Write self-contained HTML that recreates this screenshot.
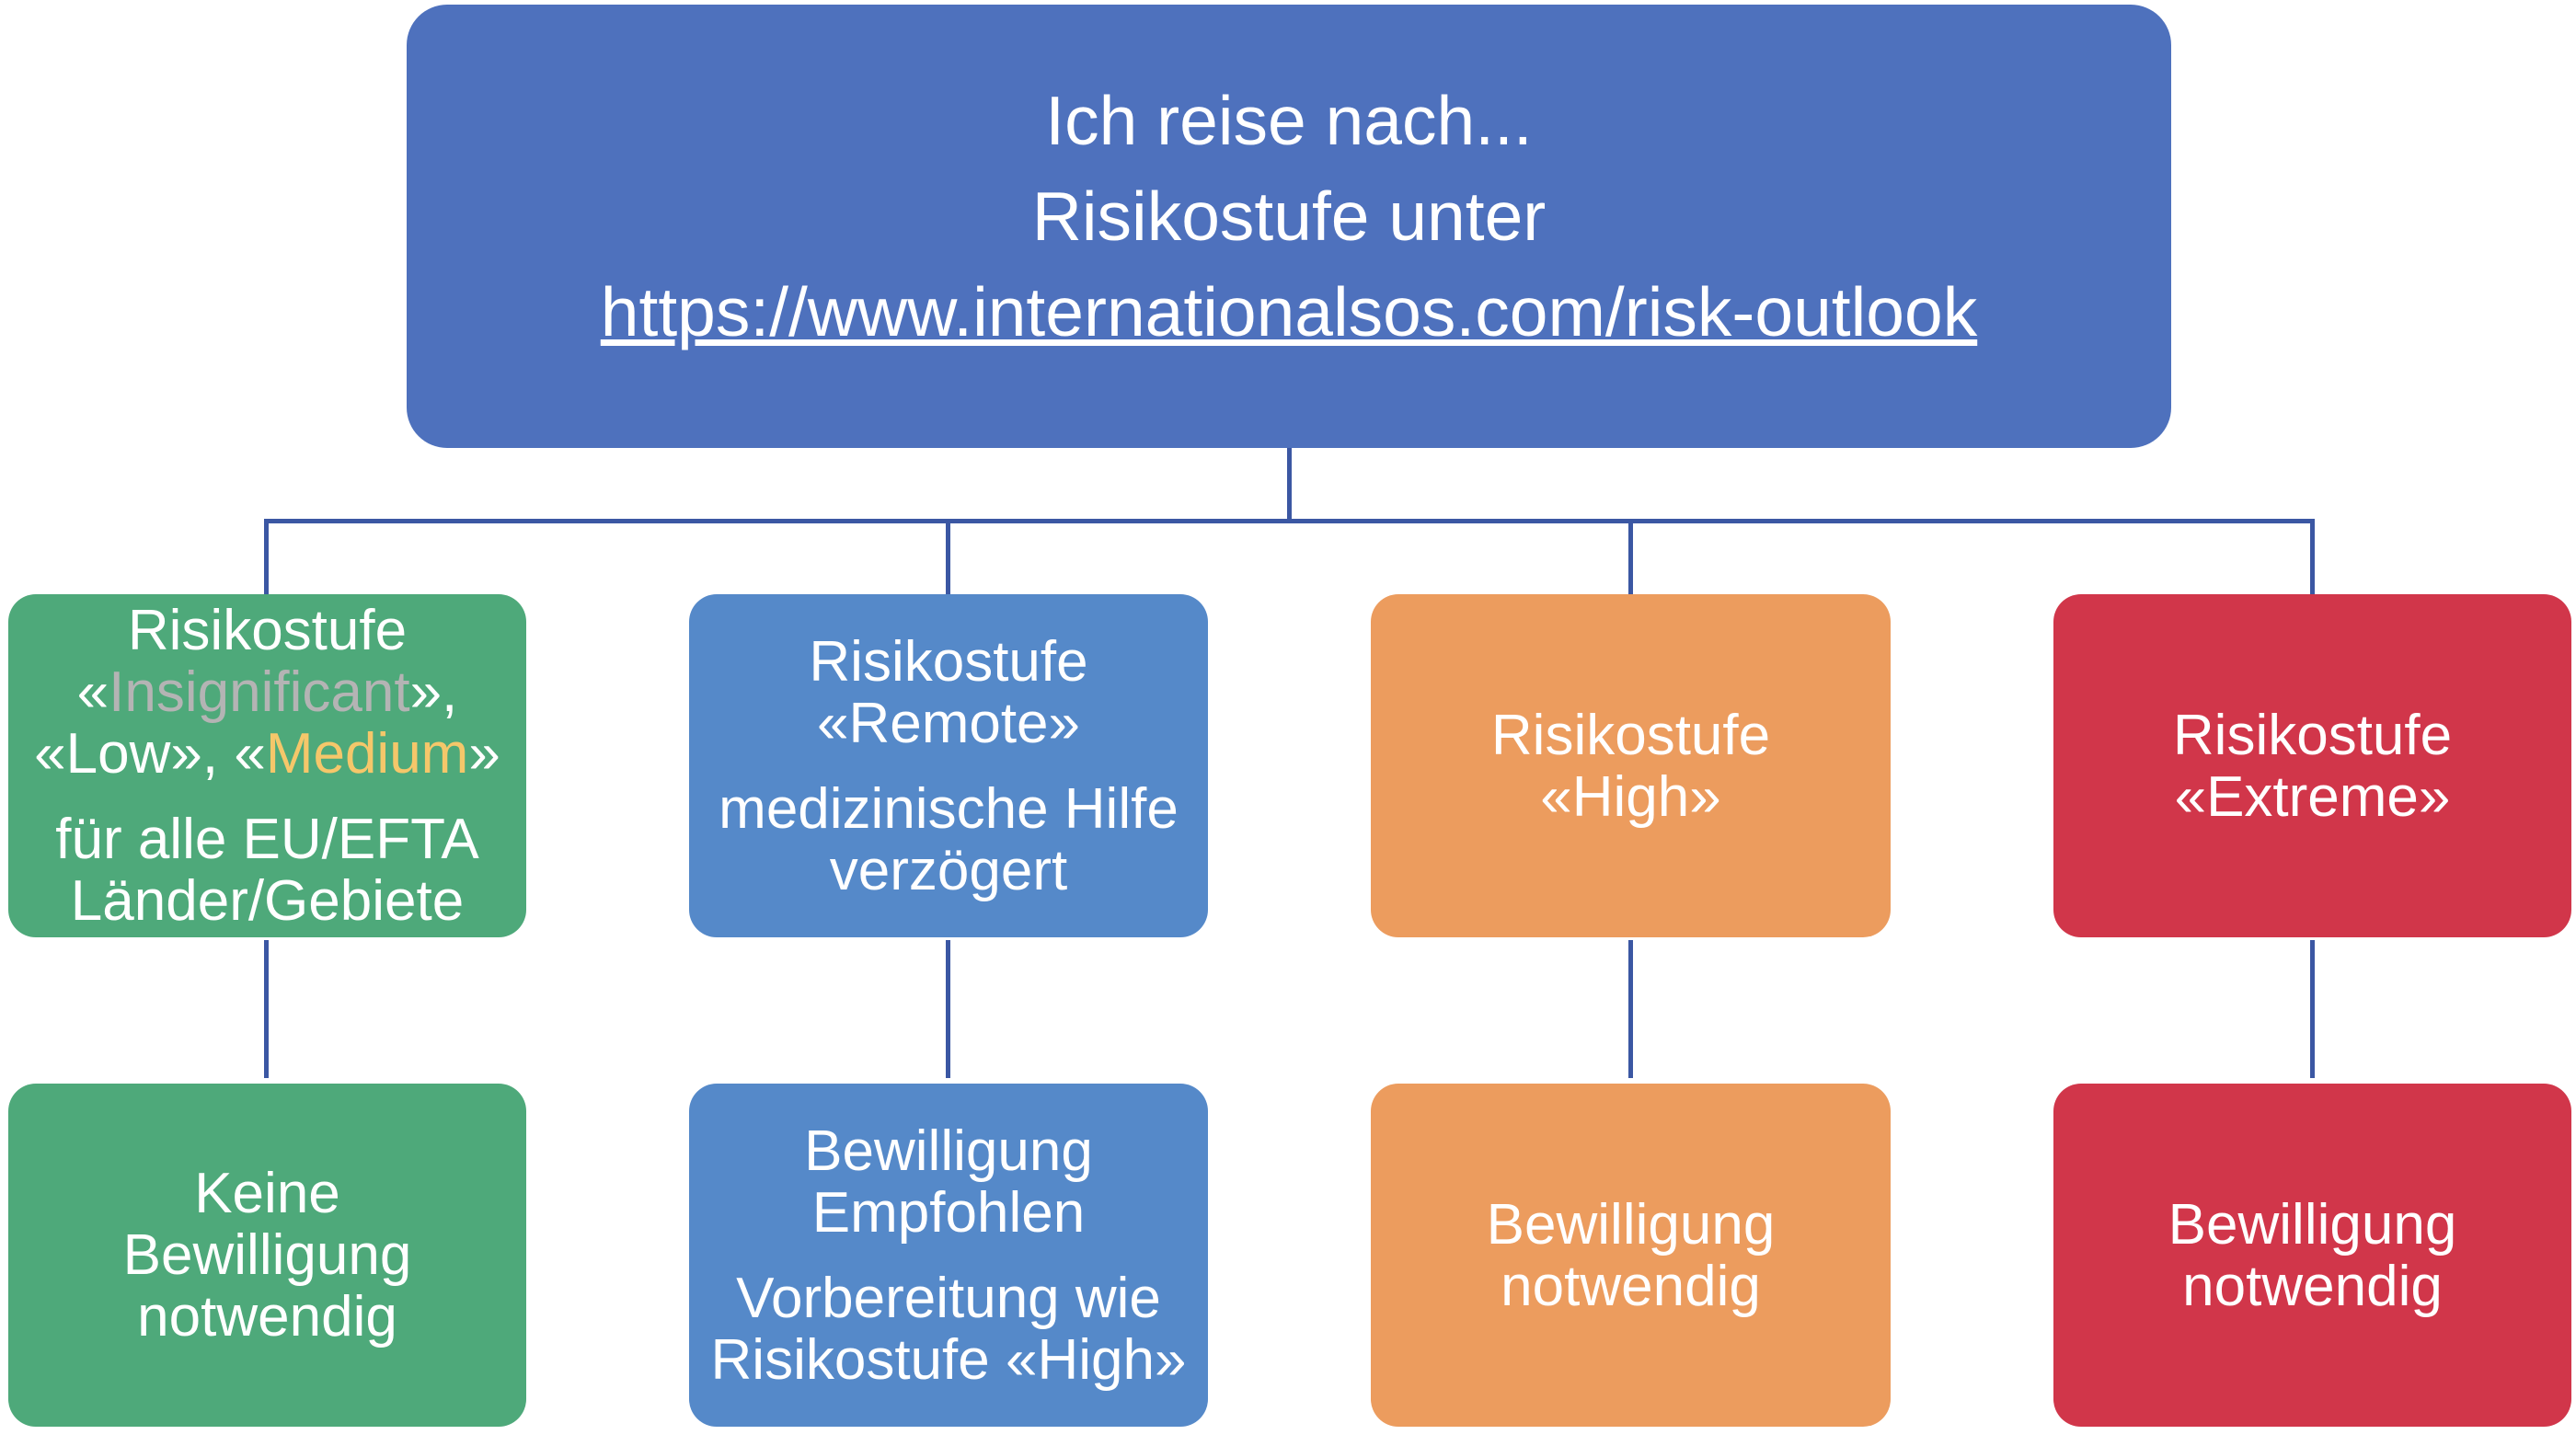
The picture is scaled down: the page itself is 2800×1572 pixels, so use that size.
<!DOCTYPE html>
<html><head><meta charset="utf-8"><style>
html,body{margin:0;padding:0;background:#fff;}
body{width:2800px;height:1572px;position:relative;overflow:hidden;font-family:"Liberation Sans",sans-serif;color:#fff;}
.b{position:absolute;border-radius:30px;display:flex;flex-direction:column;justify-content:center;align-items:center;text-align:center;font-size:62px;line-height:67px;}
.b p{margin:0;}
.b p+p{margin-top:26px;}
.l{position:absolute;background:#3b57a3;}
.g{background:#4ea97a}.u{background:#5589c9}.o{background:#ec9c5e}.r{background:#d1364a}
</style></head><body>
<div class="b" style="left:442px;top:5px;width:1918px;height:482px;background:#4e71bd;border-radius:44px;font-size:75px;line-height:104px;box-sizing:border-box;padding-bottom:22px;">
<div>Ich reise nach...</div><div>Risikostufe unter</div><div style="text-decoration:underline;">https://www.internationalsos.com/risk-outlook</div></div>
<div class="l" style="left:1399px;top:487px;width:5px;height:82px"></div>
<div class="l" style="left:287px;top:564px;width:2229px;height:5px"></div>
<div class="l" style="left:287px;top:564px;width:5px;height:82px"></div>
<div class="l" style="left:1028px;top:564px;width:5px;height:82px"></div>
<div class="l" style="left:1770px;top:564px;width:5px;height:82px"></div>
<div class="l" style="left:2511px;top:564px;width:5px;height:82px"></div>
<div class="l" style="left:287px;top:1022px;width:5px;height:150px"></div>
<div class="l" style="left:1028px;top:1022px;width:5px;height:150px"></div>
<div class="l" style="left:1770px;top:1022px;width:5px;height:150px"></div>
<div class="l" style="left:2511px;top:1022px;width:5px;height:150px"></div>

<div class="b g" style="left:9px;top:646px;width:563px;height:373px;"><p>Risikostufe<br>«<span style="color:#b4b4b4">Insignificant</span>»,<br>«Low», «<span style="color:#f5c76a">Medium</span>»</p><p>für alle EU/EFTA<br>Länder/Gebiete</p></div>
<div class="b u" style="left:749px;top:646px;width:564px;height:373px;"><p>Risikostufe<br>«Remote»</p><p>medizinische Hilfe<br>verzögert</p></div>
<div class="b o" style="left:1490px;top:646px;width:565px;height:373px;"><p>Risikostufe<br>«High»</p></div>
<div class="b r" style="left:2232px;top:646px;width:563px;height:373px;"><p>Risikostufe<br>«Extreme»</p></div>

<div class="b g" style="left:9px;top:1178px;width:563px;height:373px;"><p>Keine<br>Bewilligung<br>notwendig</p></div>
<div class="b u" style="left:749px;top:1178px;width:564px;height:373px;"><p>Bewilligung<br>Empfohlen</p><p>Vorbereitung wie<br>Risikostufe «High»</p></div>
<div class="b o" style="left:1490px;top:1178px;width:565px;height:373px;"><p>Bewilligung<br>notwendig</p></div>
<div class="b r" style="left:2232px;top:1178px;width:563px;height:373px;"><p>Bewilligung<br>notwendig</p></div>
</body></html>
